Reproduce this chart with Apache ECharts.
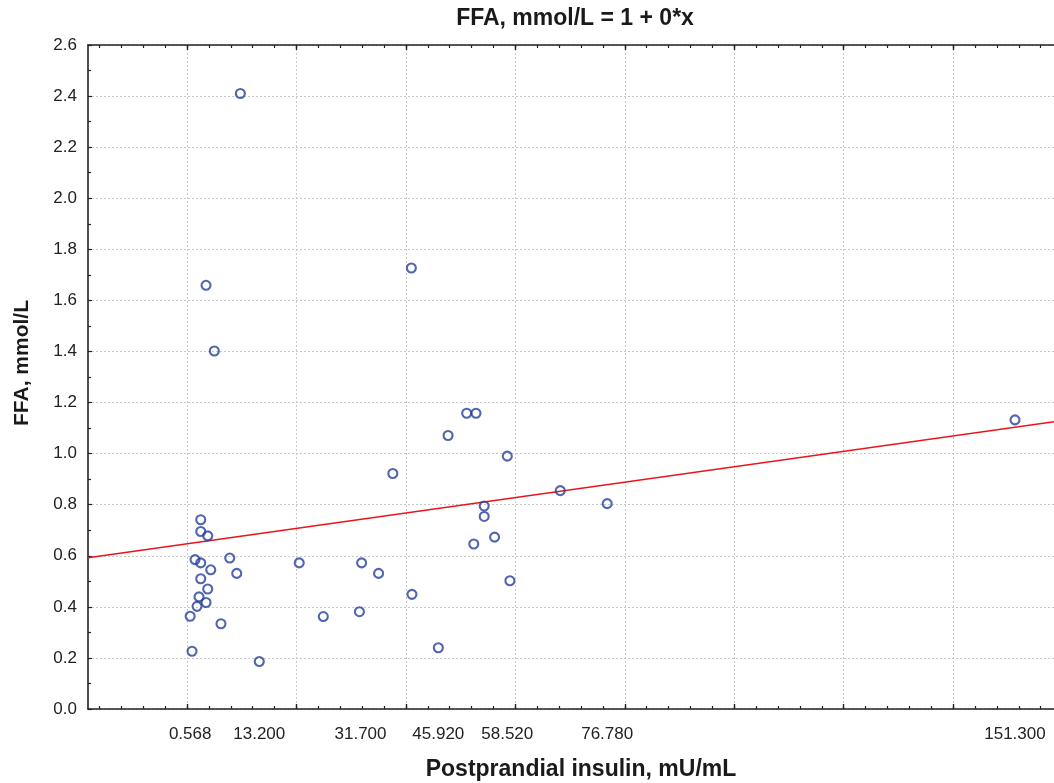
<!DOCTYPE html>
<html><head><meta charset="utf-8">
<script src="https://cdn.jsdelivr.net/npm/echarts@6/dist/echarts.min.js"></script>
<style>html,body{margin:0;padding:0;background:#fff}#c{width:1054px;height:783px}</style>
</head><body><div id="c"></div>
<script>
// Postprandial insulin, mU/mL
const insulin = [2.5, 2.5, 3.78, 1.46, 2.5, 7.8, 4.33, 9.08, 2.5, 3.78, 2.19, 3.47, 1.83, 0.568, 6.2, 0.91,
  13.2, 9.74, 3.47, 4.99, 40.99, 51.1, 52.8, 47.7, 58.52, 37.6, 54.3, 54.3, 56.2, 52.4, 59.0,
  20.5, 31.9, 35.0, 41.1, 24.9, 31.5, 45.92, 151.3, 68.2, 76.78];
// FFA, mmol/L
const ffa = [0.741, 0.695, 0.678, 0.585, 0.572, 0.591, 0.545, 0.531, 0.510, 0.470, 0.439, 0.417, 0.402, 0.363, 0.334, 0.226,
  0.186, 2.410, 1.659, 1.402, 1.727, 1.158, 1.158, 1.071, 0.990, 0.922, 0.795, 0.754, 0.673, 0.646, 0.502,
  0.572, 0.572, 0.531, 0.449, 0.362, 0.381, 0.240, 1.132, 0.855, 0.804];
// regression line end points
const fitX = [-18.1, 158.43];
const fitY = [0.592, 1.125];
// axis ticks
const xTickLabels = [0.568, 13.2, 31.7, 45.92, 58.52, 76.78, 151.3];
const xMajor = [0, 20, 40, 60, 80, 100, 120, 140];
const xMinor = [-16, -12, -8, -4, 0, 4, 8, 12, 16, 20, 24, 28, 32, 36, 40, 44, 48, 52, 56, 60, 64, 68, 72, 76, 80, 84, 88, 92, 96, 100, 104, 108, 112, 116, 120, 124, 128, 132, 136, 140, 144, 148, 152, 156];
const xMin = -18.1, xMax = 158.43;
const yMin = 0, yMax = 2.6, yStep = 0.2;

const FONT = 'Liberation Sans, Arial, sans-serif';
const axisColor = '#222';
const gridStyle = { color: '#c8c8c8', width: 1, type: [2, 2] };

function baseX(pos, extra) {
  return Object.assign({
    type: 'value', position: pos, min: xMin, max: xMax, gridIndex: 0,
    axisLine: { show: false }, axisTick: { show: false }, axisLabel: { show: false },
    splitLine: { show: false }
  }, extra);
}

const chart = echarts.init(document.getElementById('c'), null, { renderer: 'canvas' });
chart.setOption({
  animation: false,
  backgroundColor: '#fff',
  title: {
    text: 'FFA, mmol/L = 1 + 0*x', left: 575, top: 7, textAlign: 'center', padding: 0,
    textStyle: { fontFamily: FONT, fontSize: 23, fontWeight: 'bold', color: '#1a1a1a' }
  },
  grid: { left: 88, right: 0, top: 45, bottom: 74, containLabel: false, outerBoundsMode: 'none' },
  xAxis: [
    baseX('bottom', {
      name: 'Postprandial insulin, mU/mL', nameLocation: 'middle', nameGap: 49,
      nameTextStyle: { fontFamily: FONT, fontSize: 23, fontWeight: 'bold', color: '#1a1a1a', padding: [0, 0, 0, 20] },
      axisLine: { show: true, onZero: false, lineStyle: { color: axisColor, width: 1.6 } },
      axisTick: { show: true, inside: true, length: 3, customValues: xMinor, lineStyle: { color: axisColor, width: 1.2 } },
      axisLabel: { show: true, customValues: xTickLabels, margin: 17, formatter: v => Number(v).toFixed(3),
        fontFamily: FONT, fontSize: 17, color: '#222' }
    }),
    baseX('bottom', {
      axisTick: { show: true, inside: true, length: 5, customValues: xMajor, lineStyle: { color: axisColor, width: 1.4 } },
      splitLine: { show: true, lineStyle: gridStyle }
    }),
    baseX('top', {
      axisLine: { show: true, onZero: false, lineStyle: { color: axisColor, width: 1.6 } },
      axisTick: { show: true, inside: true, length: 3, customValues: xMinor, lineStyle: { color: axisColor, width: 1.2 } }
    }),
    baseX('top', {
      axisTick: { show: true, inside: true, length: 5, customValues: xMajor, lineStyle: { color: axisColor, width: 1.4 } }
    })
  ],
  yAxis: [{
    type: 'value', min: yMin, max: yMax, interval: yStep, position: 'left',
    name: 'FFA, mmol/L', nameLocation: 'middle', nameGap: 55,
    nameTextStyle: { fontFamily: FONT, fontSize: 21, fontWeight: 'bold', color: '#1a1a1a', padding: [0, 0, 0, 28] },
    axisLine: { show: true, onZero: false, lineStyle: { color: axisColor, width: 1.6 } },
    axisTick: { show: true, inside: true, length: 4, lineStyle: { color: axisColor, width: 1.2 } },
    minorTick: { show: true, splitNumber: 2, length: 3, lineStyle: { color: axisColor, width: 1.2 } },
    axisLabel: { margin: 11, formatter: v => Number(v).toFixed(1), fontFamily: FONT, fontSize: 17, color: '#222' },
    splitLine: { show: true, lineStyle: gridStyle }
  }],
  series: [
    {
      type: 'line', xAxisIndex: 0, yAxisIndex: 0,
      data: fitX.map((x, i) => [x, fitY[i]]),
      symbol: 'none', silent: true, z: 3,
      lineStyle: { color: '#e8161c', width: 1.6 }
    },
    {
      type: 'scatter', xAxisIndex: 0, yAxisIndex: 0,
      data: insulin.map((x, i) => [x, ffa[i]]),
      symbol: 'circle', symbolSize: 9, z: 4, silent: true,
      itemStyle: { color: 'rgba(0,0,0,0)', borderColor: '#25409a', borderWidth: 2.1 }
    }
  ]
});
</script>
</body></html>
